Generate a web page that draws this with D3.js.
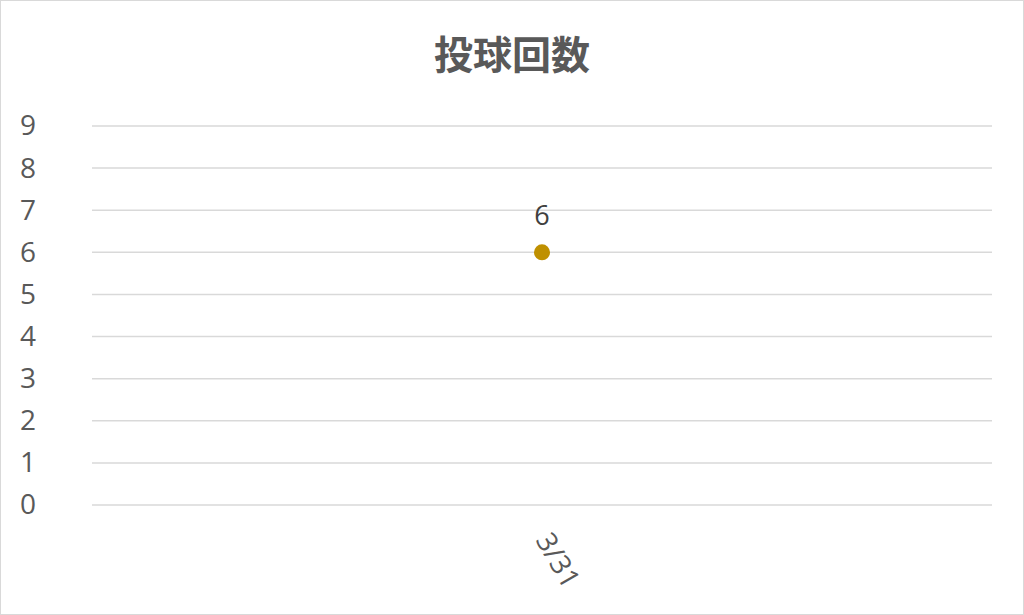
<!DOCTYPE html>
<html>
<head>
<meta charset="utf-8">
<script src="https://cdn.jsdelivr.net/npm/d3@7"></script>
<style>
  body { margin: 0; background: #fff; }
  svg { display: block; }
</style>
</head>
<body>
<svg id="chart" width="1024" height="615"></svg>
<script>
// data
var categories = ["3/31"];
var pitches = [6];
var yTicks = [0, 1, 2, 3, 4, 5, 6, 7, 8, 9];
var title = "投球回数";

var svg = d3.select("#chart");
var W = 1024, H = 615;
var plotLeft = 92, plotRight = 992, plotTop = 126, plotBottom = 505;
var labelFont = "Open Sans";

// outer border
svg.append("rect")
  .attr("x", 0.5).attr("y", 0.5)
  .attr("width", W - 1).attr("height", H - 1)
  .attr("fill", "#fff").attr("stroke", "#d9d9d9");

svg.append("text")
  .attr("x", W / 2).attr("y", 69)
  .attr("text-anchor", "middle")
  .attr("font-family", "Noto Sans CJK JP")
  .attr("font-weight", "bold")
  .attr("font-size", 39)
  .attr("fill", "#595959")
  .text(title);

var x = d3.scaleBand().domain(categories).range([plotLeft, plotRight]);
var y = d3.scaleLinear().domain([0, 9]).range([plotBottom, plotTop]);

// gridlines
svg.append("g").selectAll("line")
  .data(yTicks)
  .join("line")
  .attr("x1", plotLeft).attr("x2", plotRight)
  .attr("y1", function(d) { return y(d); })
  .attr("y2", function(d) { return y(d); })
  .attr("stroke", "#d9d9d9")
  .attr("stroke-width", 1.5);

// y axis labels
var yAxis = d3.axisLeft(y).tickValues(yTicks).tickSize(0).tickPadding(0);
var gy = svg.append("g").attr("transform", "translate(36,0)").call(yAxis);
gy.select(".domain").remove();
gy.selectAll("text")
  .attr("font-family", labelFont)
  .attr("font-size", 28)
  .attr("fill", "#595959");

// x axis labels (rotated)
var xAxis = d3.axisBottom(x).tickSize(0).tickPadding(0);
var gx = svg.append("g").attr("transform", "translate(0," + plotBottom + ")").call(xAxis);
gx.select(".domain").remove();
gx.selectAll("text")
  .attr("font-family", labelFont)
  .attr("font-size", 28)
  .attr("fill", "#595959")
  .attr("text-anchor", "start")
  .attr("dy", null)
  .attr("y", 0)
  .attr("transform", "translate(-7,35) rotate(60)");

// points
svg.append("g").selectAll("circle")
  .data(pitches)
  .join("circle")
  .attr("cx", function(d, i) { return x(categories[i]) + x.bandwidth() / 2; })
  .attr("cy", function(d) { return y(d); })
  .attr("r", 8)
  .attr("fill", "#bf9000");

// data labels
svg.append("g").selectAll("text")
  .data(pitches)
  .join("text")
  .attr("x", function(d, i) { return x(categories[i]) + x.bandwidth() / 2; })
  .attr("y", function(d) { return y(d) - 27; })
  .attr("text-anchor", "middle")
  .attr("font-family", labelFont)
  .attr("font-size", 27)
  .attr("fill", "#404040")
  .text(function(d) { return d; });
</script>
</body>
</html>
